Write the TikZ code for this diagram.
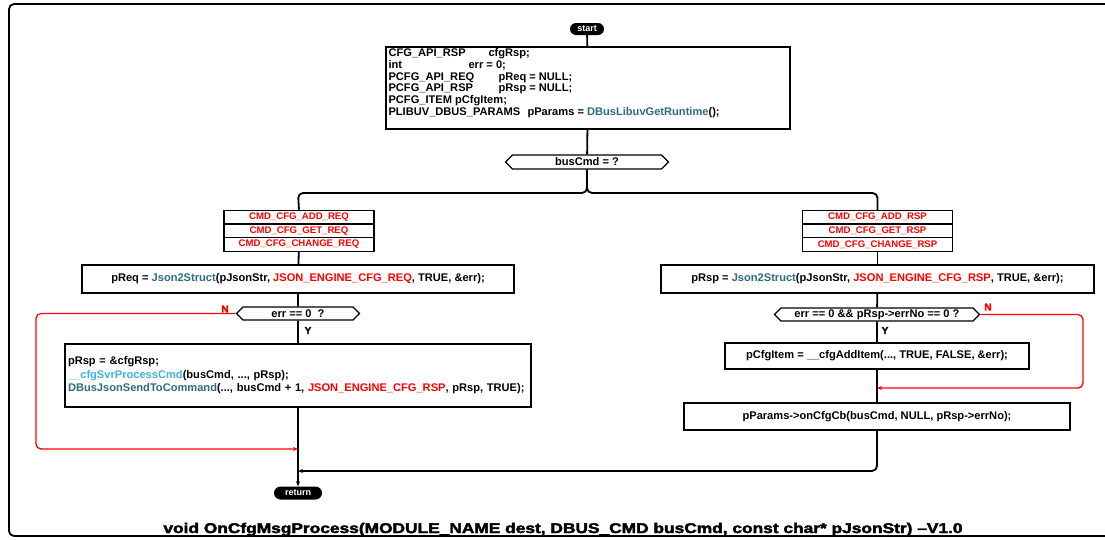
\documentclass[tikz,border=0pt]{standalone}
\usepackage{fontspec}
\setmainfont{Liberation Sans}
\newfontfamily\titlefont[FakeBold=2.5]{Liberation Sans Bold}
\newfontfamily\ynfont[FakeBold=2]{Liberation Sans Bold}
\usetikzlibrary{shapes.symbols,shapes.misc,arrows.meta}
\definecolor{fnteal}{RGB}{46,108,128}
\definecolor{fnlight}{RGB}{59,179,230}
\definecolor{kwred}{RGB}{255,0,0}
\newcommand{\fn}[1]{\textcolor{fnteal}{#1}}
\newcommand{\fl}[1]{\textcolor{fnlight}{#1}}
\newcommand{\kw}[1]{\textcolor{kwred}{#1}}
\tikzset{
  flowtext/.style={font=\fontsize{11.1}{13.5}\selectfont\bfseries},
  stmt/.style={draw, line width=1.3pt, flowtext, inner sep=2pt},
  decis/.style={draw, line width=1.3pt, flowtext, shape=signal, signal to=east and west, inner sep=0pt},
  casebox/.style={draw, line width=1.3pt, font=\fontsize{9.6}{11}\selectfont\bfseries, text=kwred, minimum width=150, minimum height=13.6, inner sep=0pt},
  pill/.style={rounded rectangle, fill=black, text=white, inner sep=0pt, font=\fontsize{9}{10}\selectfont\bfseries},
  flow/.style={line width=1.8pt},
  noflow/.style={line width=1.3pt, kwred},
  tip/.style={-{Stealth[length=5pt,width=4pt]}},
  yn/.style={font=\ynfont\fontsize{10}{11}\selectfont, inner sep=0pt}
}
\begin{document}
\begin{tikzpicture}[x=1pt,y=-1pt]
\useasboundingbox (0,0) rectangle (1105,539);
% frame
\draw[line width=1.8pt, rounded corners=5pt] (1110,4) -- (9,4) -- (9,536) -- (1110,536);

% nodes
\node[pill, minimum width=34, minimum height=12] (start) at (587,29) {start};
\node[draw, line width=1.3pt, minimum width=404, minimum height=82] (init) at (588,88) {};
\node[anchor=north west, inner sep=0pt, align=left, font=\fontsize{11.1}{11.8}\selectfont\bfseries] (inittext) at ([xshift=3pt,yshift=-2pt]init.north west) {%
\makebox[100pt][l]{CFG\_API\_RSP}cfgRsp;\\
\makebox[80pt][l]{int}err = 0;\\
\makebox[110pt][l]{PCFG\_API\_REQ}pReq = NULL;\\
\makebox[110pt][l]{PCFG\_API\_RSP}pRsp = NULL;\\
PCFG\_ITEM pCfgItem;\\
\makebox[139pt][l]{PLIBUV\_DBUS\_PARAMS}pParams = \fn{DBusLibuvGetRuntime}();};
\node[decis, minimum width=163, minimum height=14] (bus) at (587,162) {busCmd = ?};

\node[casebox] (cl1) at (299,217.2) {CMD\_CFG\_ADD\_REQ};
\node[casebox] (cl2) at (299,230.8) {CMD\_CFG\_GET\_REQ};
\node[casebox] (cl3) at (299,244.4) {CMD\_CFG\_CHANGE\_REQ};
\node[casebox] (cr1) at (877.5,217.2) {CMD\_CFG\_ADD\_RSP};
\node[casebox] (cr2) at (877.5,230.8) {CMD\_CFG\_GET\_RSP};
\node[casebox] (cr3) at (877.5,244.4) {CMD\_CFG\_CHANGE\_RSP};

\node[stmt, minimum width=432, minimum height=28] (preq) at (298,279) {pReq = \fn{Json2Struct}(pJsonStr, \kw{JSON\_ENGINE\_CFG\_REQ}, TRUE, \&err);};
\node[stmt, minimum width=433, minimum height=28] (prsp) at (877.5,279) {pRsp = \fn{Json2Struct}(pJsonStr, \kw{JSON\_ENGINE\_CFG\_RSP}, TRUE, \&err);};

\node[decis, minimum width=123, minimum height=13] (dl) at (298,313.5) {err == 0\ \ ?};
\node[decis, minimum width=205, minimum height=13] (dr) at (877,314.5) {err == 0 \&\& pRsp->errNo == 0 ?};

\node[stmt, minimum width=466, minimum height=63, text width=460, align=left] (boxl) at (298,375.5) {%
pRsp = \&cfgRsp;\\
\fl{\_\_cfgSvrProcessCmd}(busCmd, ..., pRsp);\\
\fn{DBusJsonSendToCommand}(..., busCmd + 1, \kw{JSON\_ENGINE\_CFG\_RSP}, pRsp, TRUE);};

\node[stmt, minimum width=304, minimum height=26] (item) at (877,356) {pCfgItem = \_\_cfgAddItem(..., TRUE, FALSE, \&err);};
\node[stmt, minimum width=386, minimum height=27] (params) at (877,416.5) {pParams->onCfgCb(busCmd, NULL, pRsp->errNo);};

\node[pill, minimum width=48, minimum height=13] (ret) at (298,493) {return};

\node[yn, text=kwred] (nl) at (225,309) {N};
\node[yn] (yl) at (308,330.5) {Y};
\node[yn, text=kwred] (nr) at (988,307) {N};
\node[yn] (yr) at (885,330.5) {Y};

\coordinate (mergeL) at (298,449);
\coordinate (mergeR) at (877,388);
\coordinate (mergeB) at (298,471);

% connectors
\draw[flow] (start) -- (init);
\draw[flow] (init) -- (bus);
\draw[flow, rounded corners=5pt] (bus.south) |- (298,193) -- (cl1.north);
\draw[flow, rounded corners=5pt] (bus.south) |- (877.5,193) -- (cr1.north);
\draw[flow] (cl3) -- (preq);
\draw[flow] (cr3) -- (prsp);
\draw[flow] (preq) -- (dl);
\draw[flow] (prsp) -- (dr);
\draw[flow] (dl) -- (boxl);
\draw[flow] (dr) -- (item);
\draw[flow] (item) -- (params);
\draw[flow, tip] (boxl) -- (ret);
\draw[flow, tip, rounded corners=5pt] (params.south) |- (mergeB);
\draw[noflow, tip, rounded corners=5pt] (dl.west) -- (36,313.5) |- (mergeL);
\draw[noflow, tip, rounded corners=5pt] (dr.east) -- (1083,314.5) |- (mergeR);

% title
\node[anchor=base, inner sep=0pt] (title) at (563,533) {\scalebox{1.333}[1.08]{\titlefont\fontsize{13}{14}\selectfont void OnCfgMsgProcess(MODULE\_NAME dest, DBUS\_CMD busCmd, const char* pJsonStr) –V1.0}};
\end{tikzpicture}
\end{document}
